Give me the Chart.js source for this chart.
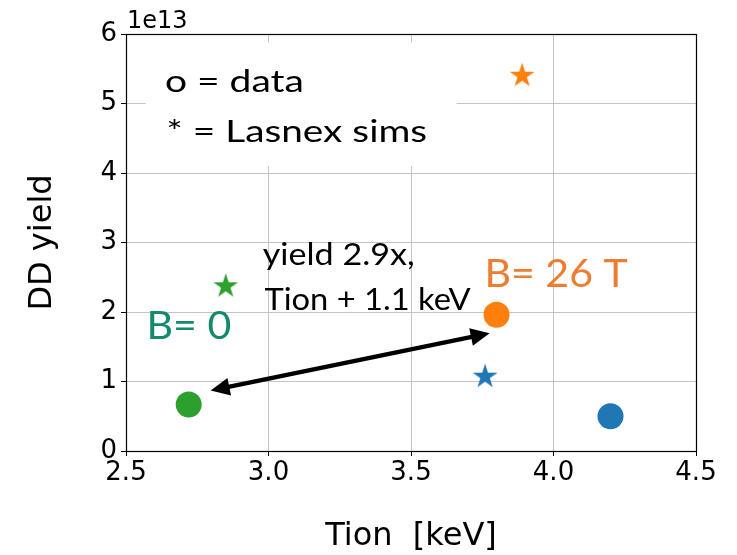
<!DOCTYPE html>
<html>
<head>
<meta charset="utf-8">
<script src="https://cdn.jsdelivr.net/npm/chart.js@4.4.1/dist/chart.umd.min.js"></script>
<style>
  html, body { margin: 0; padding: 0; background: #fff; }
  #wrap { width: 737px; height: 555px; }
</style>
</head>
<body>
<div id="wrap"><canvas id="c" width="737" height="555"></canvas></div>
<script>
// ---------------- data ----------------
const seriesColors = ['#1f77b4', '#ff7f0e', '#2ca02c'];
// measured data (circles)
const dataTion  = [4.20, 3.80, 2.72];
const dataYield = [0.50e13, 1.96e13, 0.67e13];
// Lasnex simulations (stars)
const simTion   = [3.76, 3.89, 2.85];
const simYield  = [1.07e13, 5.40e13, 2.37e13];
// axis ticks
const xTicks = [2.5, 3.0, 3.5, 4.0, 4.5];
const yTicks = [0, 1e13, 2e13, 3e13, 4e13, 5e13, 6e13];
const yExponentLabel = '1e13';
// annotation arrow (data coordinates)
const arrowFrom = [2.797, 0.87e13];
const arrowTo   = [3.776, 1.695e13];

// ---------------- styling ----------------
const TICK_FONT = 'DejaVu Sans';
const TEXT_FONT = 'Lato';
const notes = [
  { text: 'o = data',        x: 2.641, y: 5.162e13, size: 31, width: 136, color: '#000' },
  { text: '* = Lasnex sims', x: 2.646, y: 4.442e13, size: 31, width: 259, color: '#000' },
  { text: 'yield 2.9x,',     x: 2.980, y: 2.681e13, size: 30, width: 151, color: '#000' },
  { text: 'Tion + 1.1 keV',  x: 2.986, y: 2.026e13, size: 30, width: 207, color: '#000' },
  { text: 'B= 26 T',         x: 3.769, y: 2.366e13, size: 39, width: 140, color: '#ED7D31' },
  { text: 'B= 0',            x: 2.583, y: 1.611e13, size: 39, width: 81,  color: '#138A6C' }
];
const legendBox = { x0: 2.569, x1: 3.660, y0: 4.099e13, y1: 5.875e13 };

function makeStar(color, R) {
  const s = Math.ceil(2 * R + 4);
  const cv = document.createElement('canvas');
  cv.width = s; cv.height = s;
  const g = cv.getContext('2d');
  const c = s / 2, r = R * 0.381966;
  g.beginPath();
  for (let i = 0; i < 10; i++) {
    const rad = i % 2 === 0 ? R : r;
    const a = -Math.PI / 2 + i * Math.PI / 5;
    const px = c + rad * Math.cos(a), py = c + rad * Math.sin(a);
    if (i === 0) g.moveTo(px, py); else g.lineTo(px, py);
  }
  g.closePath();
  g.fillStyle = color;
  g.fill();
  return cv;
}
const starImgs = seriesColors.map(c => makeStar(c, 13));

const decor = {
  id: 'decor',
  beforeDatasetsDraw(chart) {
    const { ctx, chartArea: a, scales: { x, y } } = chart;
    ctx.save();
    // white text box that hides the grid
    const bx0 = x.getPixelForValue(legendBox.x0), bx1 = x.getPixelForValue(legendBox.x1);
    const by0 = y.getPixelForValue(legendBox.y1), by1 = y.getPixelForValue(legendBox.y0);
    ctx.fillStyle = '#fff';
    ctx.fillRect(bx0, by0, bx1 - bx0, by1 - by0);
    // frame (spines)
    ctx.strokeStyle = '#000';
    ctx.lineWidth = 1.2;
    ctx.strokeRect(Math.round(a.left) + 0.5, Math.round(a.top) + 0.5,
                   Math.round(a.right) - Math.round(a.left), Math.round(a.bottom) - Math.round(a.top));
    // exponent label
    ctx.font = '24px "' + TICK_FONT + '"';
    ctx.fillStyle = '#000';
    ctx.textAlign = 'left';
    ctx.textBaseline = 'alphabetic';
    ctx.fillText(yExponentLabel, a.left + 1, a.top - 6);
    ctx.restore();
  },
  afterDatasetsDraw(chart) {
    const { ctx, scales: { x, y } } = chart;
    ctx.save();
    // double-headed arrow
    const x1 = x.getPixelForValue(arrowFrom[0]), y1 = y.getPixelForValue(arrowFrom[1]);
    const x2 = x.getPixelForValue(arrowTo[0]),   y2 = y.getPixelForValue(arrowTo[1]);
    const ang = Math.atan2(y2 - y1, x2 - x1);
    const hl = 19, hw = 9;
    const ux = Math.cos(ang), uy = Math.sin(ang);
    ctx.strokeStyle = '#000';
    ctx.fillStyle = '#000';
    ctx.lineWidth = 4.5;
    ctx.beginPath();
    ctx.moveTo(x1 + ux * (hl - 2), y1 + uy * (hl - 2));
    ctx.lineTo(x2 - ux * (hl - 2), y2 - uy * (hl - 2));
    ctx.stroke();
    function head(tx, ty, dx, dy) {
      const bx = tx - dx * hl, by = ty - dy * hl;
      ctx.beginPath();
      ctx.moveTo(tx, ty);
      ctx.lineTo(bx - dy * hw, by + dx * hw);
      ctx.lineTo(bx + dy * hw, by - dx * hw);
      ctx.closePath();
      ctx.fill();
    }
    head(x2, y2, ux, uy);
    head(x1, y1, -ux, -uy);
    // text notes
    for (const t of notes) {
      const px = x.getPixelForValue(t.x), py = y.getPixelForValue(t.y);
      ctx.font = t.size + 'px "' + TEXT_FONT + '"';
      ctx.fillStyle = t.color;
      ctx.textAlign = 'left';
      ctx.textBaseline = 'alphabetic';
      const m = ctx.measureText(t.text);
      const vis = m.actualBoundingBoxRight + m.actualBoundingBoxLeft;
      const sx = t.width / vis;
      ctx.save();
      ctx.translate(px + m.actualBoundingBoxLeft * sx, py);
      ctx.scale(sx, 1);
      ctx.fillText(t.text, 0, 0);
      ctx.restore();
    }
    ctx.restore();
  }
};

new Chart(document.getElementById('c'), {
  type: 'scatter',
  data: {
    datasets: [
      {
        label: 'data',
        data: dataTion.map((v, i) => ({ x: v, y: dataYield[i] })),
        pointStyle: 'circle',
        pointRadius: 13,
        pointHoverRadius: 13,
        pointBorderWidth: 0,
        backgroundColor: seriesColors,
        borderColor: seriesColors
      },
      {
        label: 'Lasnex sims',
        data: simTion.map((v, i) => ({ x: v, y: simYield[i] })),
        pointStyle: (ctx) => starImgs[ctx.dataIndex],
        pointRadius: 13,
        backgroundColor: seriesColors,
        borderColor: seriesColors
      }
    ]
  },
  options: {
    responsive: false,
    devicePixelRatio: 1,
    animation: false,
    layout: { padding: { top: 34, right: 41, left: 0, bottom: 0 } },
    plugins: { legend: { display: false }, tooltip: { enabled: false } },
    scales: {
      x: {
        type: 'linear',
        min: 2.5, max: 4.5,
        afterFit: (s) => { s.height = 104; },
        afterBuildTicks: (s) => { s.ticks = xTicks.map(v => ({ value: v })); },
        ticks: {
          font: { family: TICK_FONT, size: 26 },
          color: '#000',
          padding: 2,
          maxRotation: 0,
          autoSkip: false,
          callback: (v) => Number(v).toFixed(1)
        },
        grid: { color: '#c4c4c4', lineWidth: 1, tickColor: '#000', tickLength: 5, drawTicks: true },
        border: { display: true, color: '#000', width: 1 },
        title: {
          display: true,
          text: 'Tion  [keV]',
          font: { family: TICK_FONT, size: 32, lineHeight: 1.0 },
          color: '#000',
          padding: { top: 0, bottom: 2 }
        }
      },
      y: {
        type: 'linear',
        min: 0, max: 6e13,
        afterFit: (s) => { s.width = 126; },
        afterBuildTicks: (s) => { s.ticks = yTicks.map(v => ({ value: v })); },
        ticks: {
          font: { family: TICK_FONT, size: 26 },
          color: '#000',
          padding: 4,
          autoSkip: false,
          callback: (v) => String(Math.round(v / 1e13))
        },
        grid: { color: '#c4c4c4', lineWidth: 1, tickColor: '#000', tickLength: 5, drawTicks: true },
        border: { display: true, color: '#000', width: 1 },
        title: {
          display: true,
          text: 'DD yield',
          font: { family: TICK_FONT, size: 32, lineHeight: 1.0 },
          color: '#000',
          padding: { top: 27, bottom: 0 }
        }
      }
    }
  },
  plugins: [decor]
});
</script>
</body>
</html>
